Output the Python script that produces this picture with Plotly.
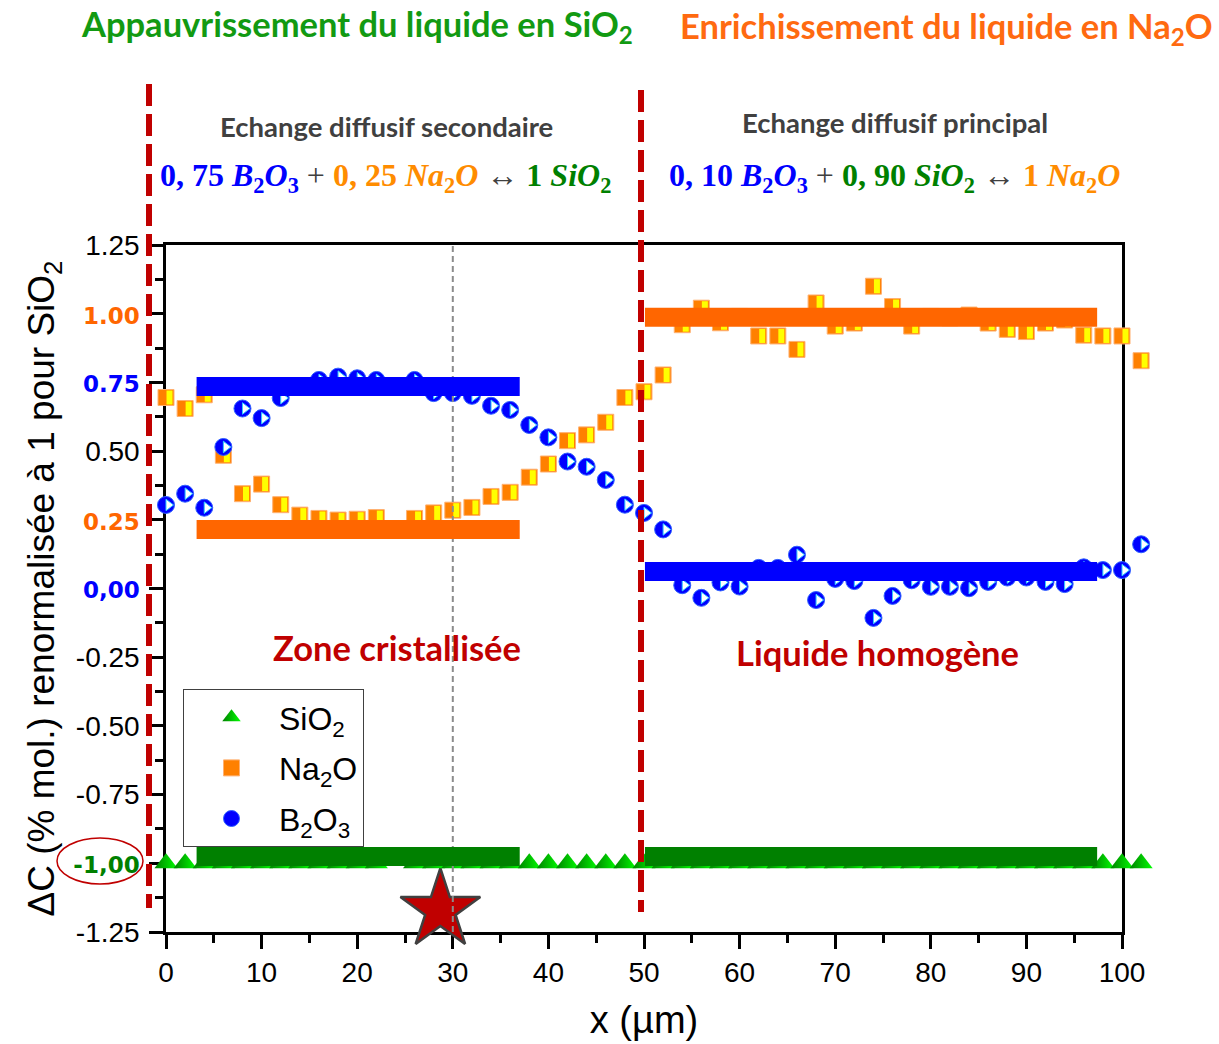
import plotly.graph_objects as go

# ---------------- data ----------------
x_um = [0, 2, 4, 6, 8, 10, 12, 14, 16, 18, 20, 22, 24, 26, 28, 30, 32, 34, 36, 38, 40, 42, 44, 46, 48, 50,
        52, 54, 56, 58, 60, 62, 64, 66, 68, 70, 72, 74, 76, 78, 80, 82, 84, 86, 88, 90, 92, 94, 96, 98, 100, 102]

sio2 = [-1.0, -1.0, -1.0, -1.0, -1.0, -1.0, -1.0, -1.0, -1.0, -1.0, -1.0, -1.0, None, -1.0, -1.0, -1.0, -1.0,
        -1.0, -1.0, -1.0, -1.0, -1.0, -1.0, -1.0, -1.0, -1.0, -1.0, -1.0, -1.0, -1.0, -1.0, -1.0, -1.0, -1.0,
        -1.0, -1.0, -1.0, -1.0, -1.0, -1.0, -1.0, -1.0, -1.0, -1.0, -1.0, -1.0, -1.0, -1.0, -1.0, -1.0, -1.0, -1.0]

na2o = [0.695, 0.655, 0.705, 0.485, 0.345, 0.38, 0.305, 0.267, 0.255, 0.249, 0.252, 0.258, None,
        0.255, 0.275, 0.285, 0.295, 0.335, 0.35, 0.405, 0.453, 0.538, 0.559, 0.605, 0.695, 0.716,
        0.777, 0.96, 1.02, 0.967, 0.99, 0.919, 0.919, 0.870, 1.039, 0.955, 0.966, 1.100, 1.026,
        0.955, 0.99, 0.985, 0.995, 0.966, 0.943, 0.935, 0.966, 0.977, 0.922, 0.919, 0.919, 0.829]

b2o3 = [0.304, 0.345, 0.294, 0.515, 0.655, 0.62, 0.693, 0.735, 0.759, 0.771, 0.765, 0.759, None,
        0.759, 0.711, 0.711, 0.701, 0.665, 0.65, 0.595, 0.55, 0.462, 0.443, 0.395, 0.305, 0.275,
        0.215, 0.012, -0.034, 0.022, 0.007, 0.075, 0.075, 0.123, -0.042, 0.035, 0.027, -0.107, -0.027,
        0.03, 0.006, 0.006, 0.001, 0.024, 0.04, 0.04, 0.024, 0.016, 0.077, 0.067, 0.067, 0.161]

# plateau levels (left zone / right zone)
fit_left_x = [3.2, 37.0]
fit_right_x = [50.1, 97.4]
fit_b2o3 = [0.735, 0.062]
fit_na2o = [0.215, 0.987]
fit_sio2 = [-0.975, -0.975]

star_x = [28.7]
star_y = [-1.17]
guide_x = [30, 30]
guide_y = [-1.25, 1.25]

x_tickvals = [0, 10, 20, 30, 40, 50, 60, 70, 80, 90, 100]
y_tickvals = [1.25, 1.0, 0.75, 0.5, 0.25, 0.0, -0.25, -0.5, -0.75, -1.0, -1.25]
y_ticklabels = ["1.25", "1.00", "0.75", "0.50", "0.25", "0,00", "-0.25", "-0.50", "-0.75", "-1,00", "-1.25"]

# ---------------- styles ----------------
BLUE = "#0000FF"
ORANGE = "#FF6600"
GREEN = "#008000"
RED = "#C00000"
GREY = "#404040"
SANS = "Liberation Sans, Arial, sans-serif"
CAL = "Lato, Open Sans, sans-serif"
SERIF = "Liberation Serif, DejaVu Serif, serif"

label_colors = [None, ORANGE, BLUE, None, ORANGE, BLUE, None, None, None, GREEN, None]
y_ticktext = []
for t, c in zip(y_ticklabels, label_colors):
    if c is None:
        y_ticktext.append(t)
    else:
        y_ticktext.append(f"<span style='color:{c};font-family:DejaVu Sans;font-size:23px'><b>{t}</b></span>")

W, H = 1219, 1044
L, R, T, B = 166, 1122, 245, 932   # visible axes box (pixels)
RF = 1160                           # right edge of the drawing area (room for x = 102)
XMAX = 100
dom_x = (R - L) / (RF - L)
x2_max = XMAX / dom_x


def px(v):
    return (v - L) / (RF - L)


def py(v):
    return (B - v) / (B - T)


fig = go.Figure()

# star (on the visible axis pair, so the axes get drawn)
fig.add_trace(go.Scatter(
    x=star_x, y=star_y, mode="markers", showlegend=False, hoverinfo="skip", cliponaxis=False,
    xaxis="x", yaxis="y",
    marker=dict(symbol="star", size=60, color=RED, line=dict(width=2.5, color=GREY))))

common = dict(xaxis="x2", yaxis="y", cliponaxis=False)

# SiO2 triangles
fig.add_trace(go.Scatter(
    x=x_um, y=sio2, mode="markers", name="SiO<sub>2</sub>", legendgroup="a",
    marker=dict(symbol="triangle-up", size=20, color=GREEN,
                gradient=dict(type="horizontal", color="#00FF00"),
                line=dict(width=0)), **common))

# Na2O squares (orange left / yellow right)
fig.add_trace(go.Scatter(
    x=x_um, y=na2o, mode="markers", name="Na<sub>2</sub>O", legendgroup="b",
    marker=dict(symbol="square", size=16, color="#FF8000",
                line=dict(width=1, color="#FFB070")), **common))
fig.add_trace(go.Scatter(
    x=x_um, y=na2o, mode="markers", showlegend=False, hoverinfo="skip",
    marker=dict(symbol="line-ew", size=10, color="#FFFF00", angle=-90, standoff=3.5,
                line=dict(width=6, color="#FFFF00")), **common))

# B2O3 circles (blue with white right-pointing triangle)
fig.add_trace(go.Scatter(
    x=x_um, y=b2o3, mode="markers", name="B<sub>2</sub>O<sub>3</sub>", legendgroup="c",
    marker=dict(symbol="circle", size=17, color=BLUE, line=dict(width=1, color="#3060FF")), **common))
fig.add_trace(go.Scatter(
    x=x_um, y=b2o3, mode="markers", showlegend=False, hoverinfo="skip",
    marker=dict(symbol="triangle-down", size=10, color="white", angle=-90, standoff=2.5,
                line=dict(width=1, color="#33CCFF")), **common))

# guide line at x = 30
fig.add_trace(go.Scatter(
    x=guide_x, y=guide_y, mode="lines", showlegend=False, hoverinfo="skip",
    line=dict(color="#8C8C8C", width=2, dash="6px,4px"), **common))

# plateau bars
for lv, col in [(fit_b2o3, BLUE), (fit_na2o, ORANGE), (fit_sio2, GREEN)]:
    fig.add_trace(go.Scatter(
        x=fit_left_x + [None] + fit_right_x,
        y=[lv[0], lv[0], None, lv[1], lv[1]],
        mode="lines", showlegend=False, hoverinfo="skip",
        line=dict(color=col, width=19), **common))

axis_common = dict(showline=True, linecolor="black", linewidth=2.5, ticks="outside",
                   tickwidth=2.5, tickcolor="black", ticklen=14, showgrid=False, zeroline=False,
                   layer="below traces", tickfont=dict(family=SANS, size=28, color="black"))

fig.update_layout(
    xaxis=dict(range=[0, XMAX], domain=[0, dom_x], anchor="y", tickvals=x_tickvals, mirror=True,
               minor=dict(dtick=5, ticklen=8, tickwidth=2.5, tickcolor="black", ticks="outside"),
               title=dict(text="x (µm)", font=dict(family=SANS, size=38, color="black"), standoff=20),
               **axis_common),
    xaxis2=dict(range=[0, x2_max], domain=[0, 1], anchor="y", visible=False, showgrid=False,
                zeroline=False),
    yaxis=dict(range=[-1.25, 1.25], anchor="x", tickvals=y_tickvals, ticktext=y_ticktext, mirror=True,
               ticklabelstandoff=4,
               minor=dict(dtick=0.125, ticklen=8, tickwidth=2.5, tickcolor="black", ticks="outside"),
               title=dict(text="ΔC (% mol.) renormalisée à 1 pour SiO<sub>2</sub>",
                          font=dict(family=SANS, size=37, color="black"), standoff=8),
               **axis_common),
)

shapes = [
    dict(type="line", xref="paper", yref="paper", x0=px(149), x1=px(149), y0=py(84), y1=py(908),
         line=dict(color=RED, width=6, dash="22px,8px")),
    dict(type="line", xref="paper", yref="paper", x0=px(641), x1=px(641), y0=py(90), y1=py(912),
         line=dict(color=RED, width=6, dash="22px,8px")),
    dict(type="circle", xref="paper", yref="paper", x0=px(57), x1=px(143), y0=py(884), y1=py(838),
         line=dict(color=RED, width=1.5)),
]


def bi(t, c):
    return f"<span style='color:{c}'><b><i>{t}</i></b></span>"


def bd(t, c):
    return f"<span style='color:{c}'><b>{t}</b></span>"


EQ_OR = "#FF8C00"
eq1 = (bd("0, 75 ", BLUE) + bi("B", BLUE) + f"<sub>{bd('2', BLUE)}</sub>" + bi("O", BLUE) +
       f"<sub>{bd('3', BLUE)}</sub>" + f"<span style='color:{GREY}'> + </span>" +
       bd("0, 25 ", EQ_OR) + bi("Na", EQ_OR) + f"<sub>{bd('2', EQ_OR)}</sub>" + bi("O", EQ_OR) +
       f"<span style='color:{GREY}'> ↔ </span>" + bd("1 ", GREEN) + bi("SiO", GREEN) +
       f"<sub>{bd('2', GREEN)}</sub>")
eq2 = (bd("0, 10 ", BLUE) + bi("B", BLUE) + f"<sub>{bd('2', BLUE)}</sub>" + bi("O", BLUE) +
       f"<sub>{bd('3', BLUE)}</sub>" + f"<span style='color:{GREY}'> + </span>" +
       bd("0, 90 ", GREEN) + bi("SiO", GREEN) + f"<sub>{bd('2', GREEN)}</sub>" +
       f"<span style='color:{GREY}'> ↔ </span>" + bd("1 ", EQ_OR) + bi("Na", EQ_OR) +
       f"<sub>{bd('2', EQ_OR)}</sub>" + bi("O", EQ_OR))


def ann(text, xp, yp, size, color, family):
    return dict(text=text, x=px(xp), y=py(yp), xref="paper", yref="paper", showarrow=False,
                xanchor="center", yanchor="middle", font=dict(size=size, color=color, family=family))


annotations = [
    ann("<b>Appauvrissement du liquide en SiO<sub>2</sub></b>", 357, 26, 34.5, "#129A12", CAL),
    ann("<b>Enrichissement du liquide en Na<sub>2</sub>O</b>", 946, 28, 34.5, "#FF6A10", CAL),
    ann("<b>Echange diffusif secondaire</b>", 386, 126, 27.5, GREY, CAL),
    ann("<b>Echange diffusif principal</b>", 895, 123, 27.5, GREY, CAL),
    ann(eq1, 385, 178, 32, GREY, SERIF),
    ann(eq2, 894, 178, 32, GREY, SERIF),
    ann("<b>Zone cristallisée</b>", 397, 647, 34.5, RED, CAL),
    ann("<b>Liquide homogène</b>", 877, 652, 34.5, RED, CAL),
]

fig.update_layout(
    width=W, height=H,
    margin=dict(l=L, r=W - RF, t=T, b=H - B, autoexpand=False),
    paper_bgcolor="white", plot_bgcolor="rgba(0,0,0,0)",
    shapes=shapes, annotations=annotations,
    legend=dict(x=px(183), y=py(689), xanchor="left", yanchor="top", bgcolor="white",
                bordercolor=GREY, borderwidth=1, font=dict(family=SANS, size=32, color="black"),
                itemwidth=85, tracegroupgap=6, traceorder="grouped"),
)

fig.write_html("out.html")
